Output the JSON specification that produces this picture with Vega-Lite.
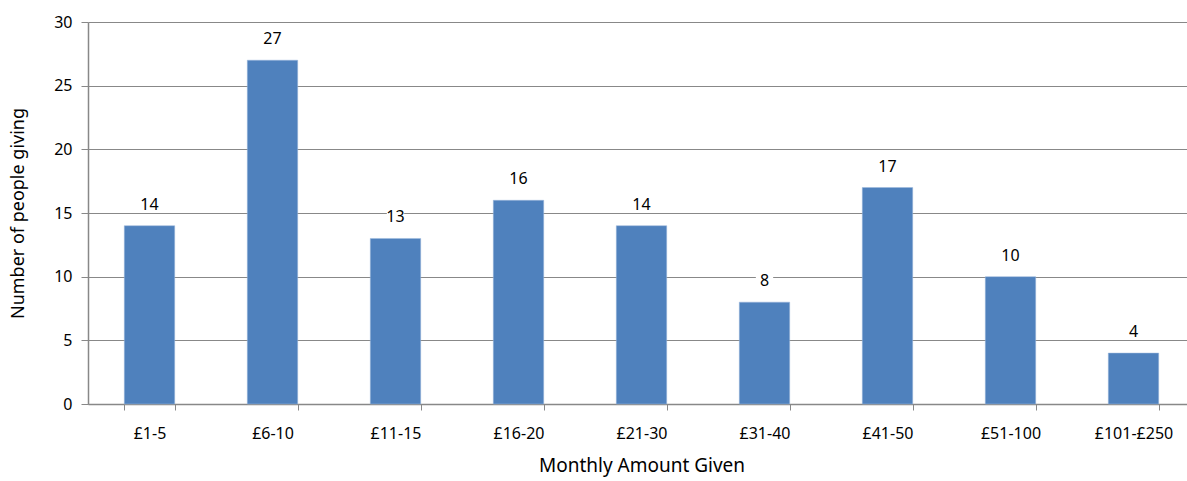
{
  "$schema": "https://vega.github.io/schema/vega-lite/v6.json",
  "width": 1107,
  "height": 382,
  "autosize": {"type": "none"},
  "padding": {"left": 88, "top": 22, "right": 0, "bottom": 77},
  "background": "white",
  "config": {
    "view": {"stroke": null},
    "font": "Noto Sans",
    "axis": {"labelFont": "Noto Sans", "titleFont": "Noto Sans", "labelColor": "#000", "titleColor": "#000", "titleFontWeight": "normal"}
  },
  "data": {
    "values": [
      {"amount": "£1-5", "count": 14},
      {"amount": "£6-10", "count": 27},
      {"amount": "£11-15", "count": 13},
      {"amount": "£16-20", "count": 16},
      {"amount": "£21-30", "count": 14},
      {"amount": "£31-40", "count": 8},
      {"amount": "£41-50", "count": 17},
      {"amount": "£51-100", "count": 10},
      {"amount": "£101-£250", "count": 4}
    ]
  },
  "encoding": {
    "x": {
      "field": "amount", "type": "nominal", "sort": null,
      "scale": {"paddingInner": 0.59, "paddingOuter": 0.295},
      "axis": {
        "title": "Monthly Amount Given", "titleFontSize": 19, "titlePadding": 15,
        "labelAngle": 0, "labelFontSize": 16, "labelPadding": 15,
        "tickBand": "extent", "tickColor": "#888", "tickSize": 6,
        "domainColor": "#888", "domainWidth": 1.5, "grid": false
      }
    },
    "y": {
      "field": "count", "type": "quantitative",
      "scale": {"domain": [0, 30], "nice": false},
      "axis": {
        "title": "Number of people giving", "titleFontSize": 18, "titlePadding": 26,
        "values": [0, 5, 10, 15, 20, 25, 30],
        "labelFontSize": 16, "labelPadding": 9,
        "tickColor": "#888", "tickSize": 7,
        "domainColor": "#888", "domainWidth": 1.5,
        "grid": true, "gridColor": "#888", "gridWidth": 1
      }
    }
  },
  "layer": [
    {"mark": {"type": "bar", "color": "#4F81BD", "stroke": "#9DB9DD", "strokeWidth": 0.5}},
    {"mark": {"type": "point", "shape": "M-1,-0.6L1,-0.6L1,0.6L-1,0.6Z", "filled": true, "fill": "white", "opacity": 1, "size": 300, "yOffset": -21}},
    {"mark": {"type": "text", "fontSize": 16, "yOffset": -21, "baseline": "middle", "color": "#000"}, "encoding": {"text": {"field": "count", "type": "quantitative"}}}
  ]
}
